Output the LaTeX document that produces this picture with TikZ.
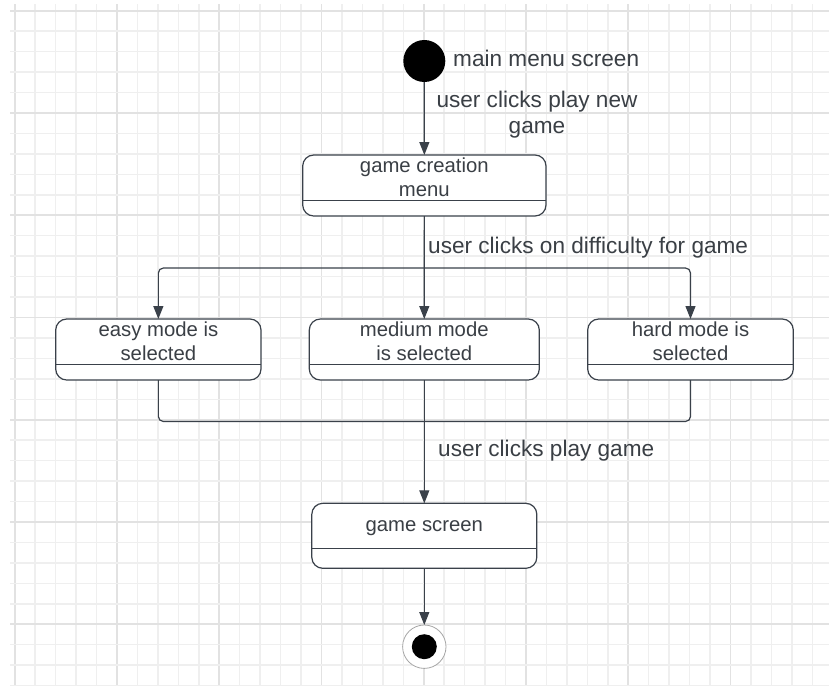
\documentclass[tikz,border=0pt]{standalone}
\usepackage{fontspec}
\setmainfont{Liberation Sans}
\usetikzlibrary{arrows.meta}
\definecolor{linec}{HTML}{3A414A}
\definecolor{textc}{HTML}{3A3F45}
\definecolor{gridminor}{HTML}{EFEFEF}
\definecolor{gridmajor}{HTML}{E2E2E2}
\begin{document}
\begin{tikzpicture}[x=1pt,y=-1pt,
  statebox/.style={draw=linec, line width=1.2pt, rounded corners=11pt, fill=white, inner sep=0pt, outer sep=0pt, anchor=north west},
  lbl/.style={text=textc, font=\fontsize{22.6pt}{27pt}\selectfont, inner sep=0pt, anchor=base west},
  clbl/.style={text=textc, font=\fontsize{22.6pt}{27pt}\selectfont, inner sep=0pt, anchor=base},
  btxt/.style={text=textc, font=\fontsize{20.3pt}{24pt}\selectfont, inner sep=0pt, anchor=base},
  conn/.style={draw=linec, line width=1.2pt},
  arr/.style={conn, -{Triangle[length=13pt,width=10pt]}},
  divider/.style={draw=linec, line width=1.2pt},
  gminor/.style={draw=gridminor, line width=1.5pt},
  gmajor/.style={draw=gridmajor, line width=1.8pt}]

\useasboundingbox (0,0) rectangle (829,686);
\fill[white] (0,0) rectangle (829,686);

% grid
\foreach \k in {0,...,40}{
  \pgfmathsetmacro{\gx}{14.75+20.45*\k}
  \pgfmathtruncatemacro{\gm}{mod(\k,5)}
  \ifnum\gm=0
    \draw[gmajor] (\gx,4) -- (\gx,686);
  \else
    \draw[gminor] (\gx,4) -- (\gx,686);
  \fi
}
\foreach \k in {0,...,33}{
  \pgfmathsetmacro{\gy}{10.75+20.45*\k}
  \pgfmathtruncatemacro{\gm}{mod(\k,5)}
  \ifnum\gm=0
    \draw[gmajor] (10,\gy) -- (829,\gy);
  \else
    \draw[gminor] (10,\gy) -- (829,\gy);
  \fi
}

% initial node
\node[circle, fill=black, minimum size=42pt, inner sep=0pt, outer sep=0pt] (init) at (424.3,61) {};
\node[lbl] (initlbl) at (453,66.7) {main menu screen};

% states
\node[statebox, minimum width=243.3pt, minimum height=61pt] (gcm) at (302.7,155) {};
\draw[divider] (gcm.west |- 0,200.7) -- (gcm.east |- 0,200.7);
\node[btxt] (gcmt1) at (424.3,172.7) {game creation};
\node[btxt] (gcmt2) at (424.3,196) {menu};

\node[statebox, minimum width=205.3pt, minimum height=61pt] (easy) at (55.7,319) {};
\draw[divider] (easy.west |- 0,364.5) -- (easy.east |- 0,364.5);
\node[btxt] (easyt1) at (158.4,336) {easy mode is};
\node[btxt] (easyt2) at (158.4,360) {selected};

\node[statebox, minimum width=230pt, minimum height=61pt] (medium) at (309.3,319) {};
\draw[divider] (medium.west |- 0,364.5) -- (medium.east |- 0,364.5);
\node[btxt] (medt1) at (424.3,336) {medium mode};
\node[btxt] (medt2) at (424.3,360) {is selected};

\node[statebox, minimum width=205.6pt, minimum height=61pt] (hard) at (587.7,319) {};
\draw[divider] (hard.west |- 0,364.5) -- (hard.east |- 0,364.5);
\node[btxt] (hardt1) at (690.5,336) {hard mode is};
\node[btxt] (hardt2) at (690.5,360) {selected};

\node[statebox, minimum width=225pt, minimum height=65pt] (gscreen) at (311.8,503.3) {};
\draw[divider] (gscreen.west |- 0,548.3) -- (gscreen.east |- 0,548.3);
\node[btxt] (gst) at (424.3,531.7) {game screen};

% final node
\node[circle, draw=gray!70, line width=0.8pt, fill=white, minimum size=43.4pt, inner sep=0pt, outer sep=0pt] (final) at (424.3,646.7) {};
\node[circle, fill=black, minimum size=25pt, inner sep=0pt] (finalin) at (final.center) {};

% connectors
\draw[arr] (init.south) -- (gcm.north);
\node[clbl] (l1a) at (537,107) {user clicks play new};
\node[clbl] (l1b) at (537,133) {game};

\coordinate (fork) at (424.3,268);
\draw[arr] (gcm.south) -- (medium.north);
\draw[arr, rounded corners=5pt] (fork) -| (easy.north);
\draw[arr, rounded corners=5pt] (fork) -| (hard.north);
\node[lbl] (l2) at (428,253) {user clicks on difficulty for game};

\coordinate (join) at (424.3,421.5);
\draw[conn, rounded corners=5pt] (easy.south) |- (join);
\draw[conn, rounded corners=5pt] (hard.south) |- (join);
\draw[arr] (medium.south) -- (gscreen.north);
\node[lbl] (l3) at (438,456.7) {user clicks play game};

\draw[arr] (gscreen.south) -- (final.north);
\end{tikzpicture}
\end{document}
